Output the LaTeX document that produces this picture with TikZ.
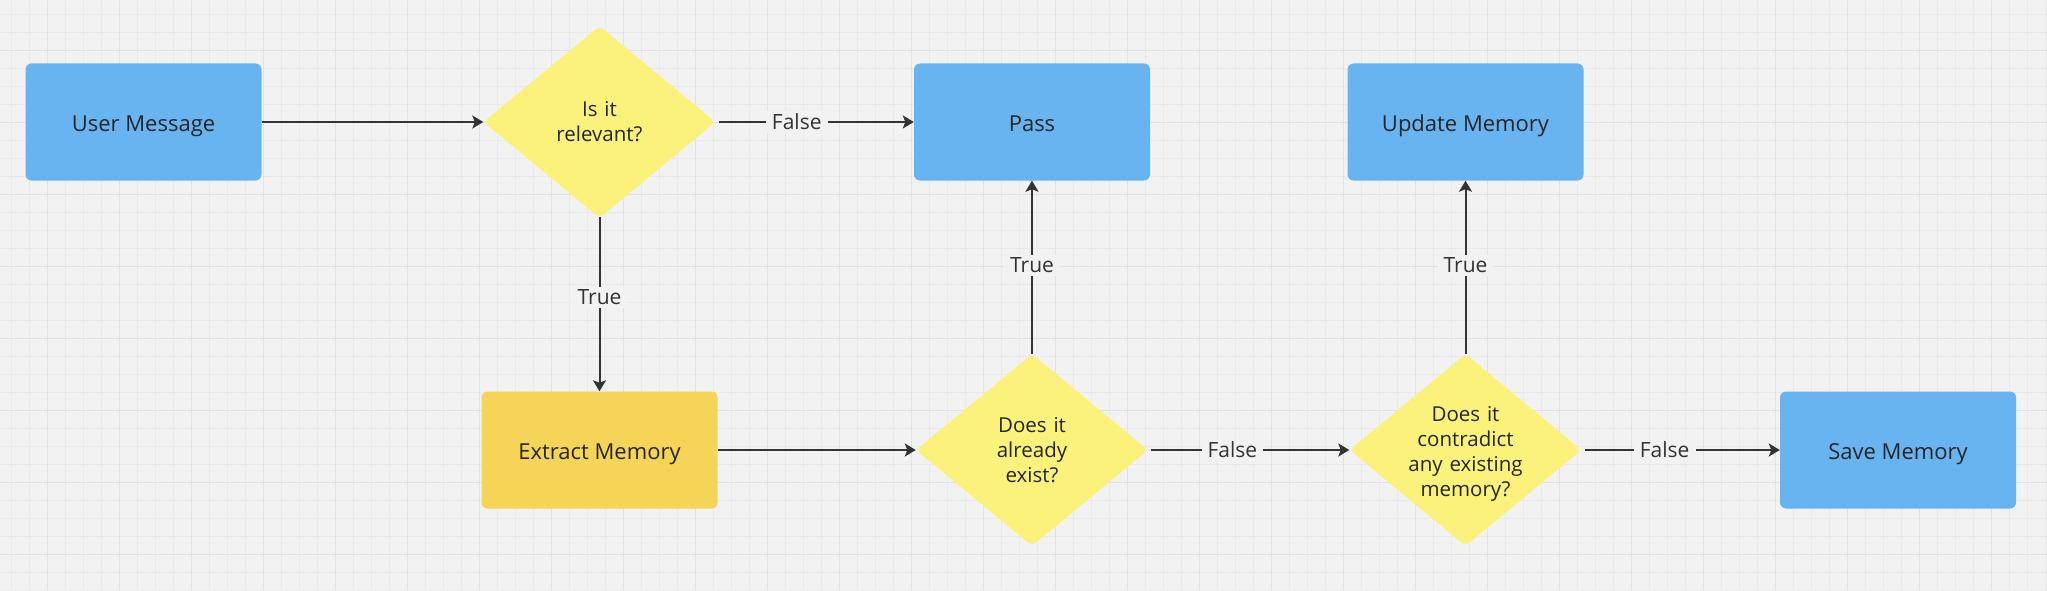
\documentclass[tikz,border=0pt]{standalone}
\usepackage{fontspec}
\setmainfont{Open Sans}
\usetikzlibrary{shapes.geometric,arrows.meta}
\definecolor{bg}{HTML}{F2F2F2}
\definecolor{gridminor}{HTML}{EAEAEA}
\definecolor{gridmajor}{HTML}{E2E2E2}
\definecolor{boxblue}{HTML}{68B4F0}
\definecolor{decyellow}{HTML}{FAF27B}
\definecolor{extgold}{HTML}{F6D457}
\definecolor{txt}{HTML}{262626}
\definecolor{linec}{HTML}{333333}
\tikzset{
  proc/.style={rectangle, rounded corners=6pt, minimum width=236pt, minimum height=117pt, inner sep=0pt, text=txt, font=\fontsize{22}{25}\selectfont, text height=19pt, text depth=0pt},
  bluebox/.style={proc, fill=boxblue},
  goldbox/.style={proc, fill=extgold},
  decision/.style={diamond, fill=decyellow, rounded corners=5pt, minimum width=232pt, minimum height=192pt, inner sep=0pt},
  dtext/.style={text width=200pt, align=center, text=txt, font=\fontsize{20.5}{25}\selectfont, inner sep=0pt},
  flow/.style={draw=linec, line width=2pt, -{Stealth[length=11pt,width=13pt,inset=2.5pt]}},
  lbl/.style={fill=bg, text=linec, font=\fontsize{21}{25}\selectfont, inner xsep=6pt, inner ysep=3pt},
}
\begin{document}
\begin{tikzpicture}[x=1pt,y=-1pt]
\fill[bg] (0,0) rectangle (2047,591);
\useasboundingbox (0,0) rectangle (2047,591);
% grid
\foreach \i in {0,...,113} \draw[gridminor, line width=1pt] (11.7+18*\i,0) -- (11.7+18*\i,591);
\foreach \i in {0,...,32} \draw[gridminor, line width=1pt] (0,14.3+18*\i) -- (2047,14.3+18*\i);
\foreach \i in {0,...,27} \draw[gridmajor, line width=1.3pt] (47.7+72*\i,0) -- (47.7+72*\i,591);
\foreach \i in {0,...,7} \draw[gridmajor, line width=1.3pt] (0,50.3+72*\i) -- (2047,50.3+72*\i);
% nodes
\node[bluebox] (um) at (143.5,122) {User Message};
\node[decision] (d1) at (599.5,122) {};
\node[dtext] (d1t) at (599.5,122) {Is it\\relevant?};
\node[bluebox] (pass) at (1032,122) {Pass};
\node[bluebox] (upd) at (1465.5,122) {Update Memory};
\node[goldbox] (ext) at (599.5,450) {Extract Memory};
\node[decision] (d2) at (1032,450) {};
\node[dtext] (d2t) at (1032,450) {Does it\\already\\exist?};
\node[decision] (d3) at (1465.5,450) {};
\node[dtext] (d3t) at (1465.5,454) {Does it\\contradict\\any existing\\memory?};
\node[bluebox] (save) at (1898,450) {Save Memory};
% connectors
\draw[flow] (um.east) -- (d1.west);
\draw[flow] ([xshift=3pt]d1.east) -- node[lbl, pos=0.40] (l1) {False} (pass.west);
\draw[flow] ([yshift=1pt]d1.south) -- node[lbl, pos=0.46] (l2) {True} (ext.north);
\draw[flow] (ext.east) -- (d2.west);
\draw[flow] ([xshift=3pt]d2.east) -- node[lbl, pos=0.41] (l3) {False} (d3.west);
\draw[flow] ([xshift=3pt]d3.east) -- node[lbl, pos=0.41] (l4) {False} (save.west);
\draw[flow] (d2.north) -- node[lbl, pos=0.51] (l5) {True} (pass.south);
\draw[flow] (d3.north) -- node[lbl, pos=0.51] (l6) {True} (upd.south);
\end{tikzpicture}
\end{document}
